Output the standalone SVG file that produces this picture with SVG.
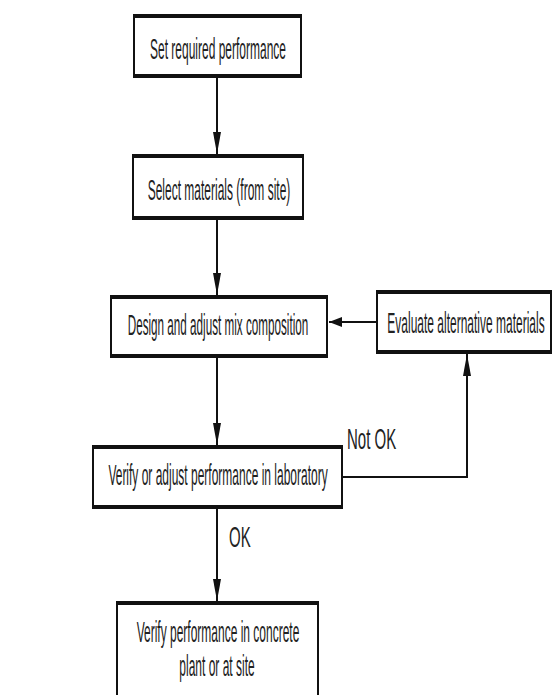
<svg xmlns="http://www.w3.org/2000/svg" width="555" height="695" viewBox="0 0 555 695">
<style>
  .box{fill:#ffffff;stroke:#111111;stroke-width:2}
  .edge{stroke:#111111;stroke-width:4;fill:none}
  .t{font-family:"Liberation Sans",Arial,sans-serif;font-size:30px;fill:#222222;text-anchor:middle}
  .lbl{font-family:"Liberation Sans",Arial,sans-serif;font-size:30px;fill:#222222;text-anchor:start}
  .conn{stroke:#111111;stroke-width:2;fill:none}
</style>
<defs>
  <marker id="av" markerUnits="userSpaceOnUse" markerWidth="24" markerHeight="10" refX="22" refY="5" orient="auto">
    <path d="M0,1 L22,5 L0,9 z" fill="#111111"/>
  </marker>
  <marker id="ah" markerUnits="userSpaceOnUse" markerWidth="16" markerHeight="12" refX="13" refY="6" orient="auto">
    <path d="M0,1 L13,6 L0,11 z" fill="#111111"/>
  </marker>
</defs>
<rect width="555" height="695" fill="#ffffff"/>

<g id="connectors">
  <line class="conn" x1="217" y1="78" x2="217" y2="154" marker-end="url(#av)"/>
  <line class="conn" x1="217" y1="220" x2="217" y2="295" marker-end="url(#av)"/>
  <line class="conn" x1="217" y1="358" x2="217" y2="445" marker-end="url(#av)"/>
  <line class="conn" x1="217" y1="509" x2="217" y2="601" marker-end="url(#av)"/>
  <line class="conn" x1="376" y1="322" x2="329" y2="322" marker-end="url(#ah)"/>
  <polyline class="conn" points="343,477 467,477 467,354" marker-end="url(#av)"/>
  <g transform="translate(347,449) scale(0.5,1)"><text class="lbl" x="0" y="0">Not OK</text></g>
  <g transform="translate(229,547) scale(0.5,1)"><text class="lbl" x="0" y="0">OK</text></g>
</g>

<g id="n1">
  <rect class="box" x="134" y="16" width="167" height="60"/>
  <line class="edge" x1="133" y1="16" x2="302" y2="16"/>
  <line class="edge" x1="133" y1="76" x2="302" y2="76"/>
  <g transform="translate(218,59) scale(0.4,1)"><text class="t" x="0" y="0">Set required performance</text></g>
</g>

<g id="n2">
  <rect class="box" x="133" y="156" width="170" height="62"/>
  <line class="edge" x1="132" y1="156" x2="304" y2="156"/>
  <line class="edge" x1="132" y1="218" x2="304" y2="218"/>
  <g transform="translate(219,200) scale(0.4,1)"><text class="t" x="0" y="0">Select materials (from site)</text></g>
</g>

<g id="n3">
  <rect class="box" x="111" y="297" width="216" height="59"/>
  <line class="edge" x1="110" y1="297" x2="328" y2="297"/>
  <line class="edge" x1="110" y1="356" x2="328" y2="356"/>
  <g transform="translate(218,335) scale(0.39,1)"><text class="t" x="0" y="0">Design and adjust mix composition</text></g>
</g>

<g id="n4">
  <rect class="box" x="377" y="292" width="174" height="60"/>
  <line class="edge" x1="376" y1="292" x2="552" y2="292"/>
  <line class="edge" x1="376" y1="352" x2="552" y2="352"/>
  <g transform="translate(466,333) scale(0.4,1)"><text class="t" x="0" y="0">Evaluate alternative materials</text></g>
</g>

<g id="n5">
  <rect class="box" x="93" y="447" width="249" height="60"/>
  <line class="edge" x1="92" y1="447" x2="343" y2="447"/>
  <line class="edge" x1="92" y1="507" x2="343" y2="507"/>
  <g transform="translate(218,485) scale(0.4,1)"><text class="t" x="0" y="0">Verify or adjust performance in laboratory</text></g>
</g>

<g id="n6">
  <rect class="box" x="117" y="603" width="201" height="100"/>
  <line class="edge" x1="116" y1="603" x2="319" y2="603"/>
  <g transform="translate(218,642) scale(0.4,1)"><text class="t" x="0" y="0">Verify performance in concrete</text></g>
  <g transform="translate(217,676) scale(0.4,1)"><text class="t" x="0" y="0">plant or at site</text></g>
</g>
</svg>
